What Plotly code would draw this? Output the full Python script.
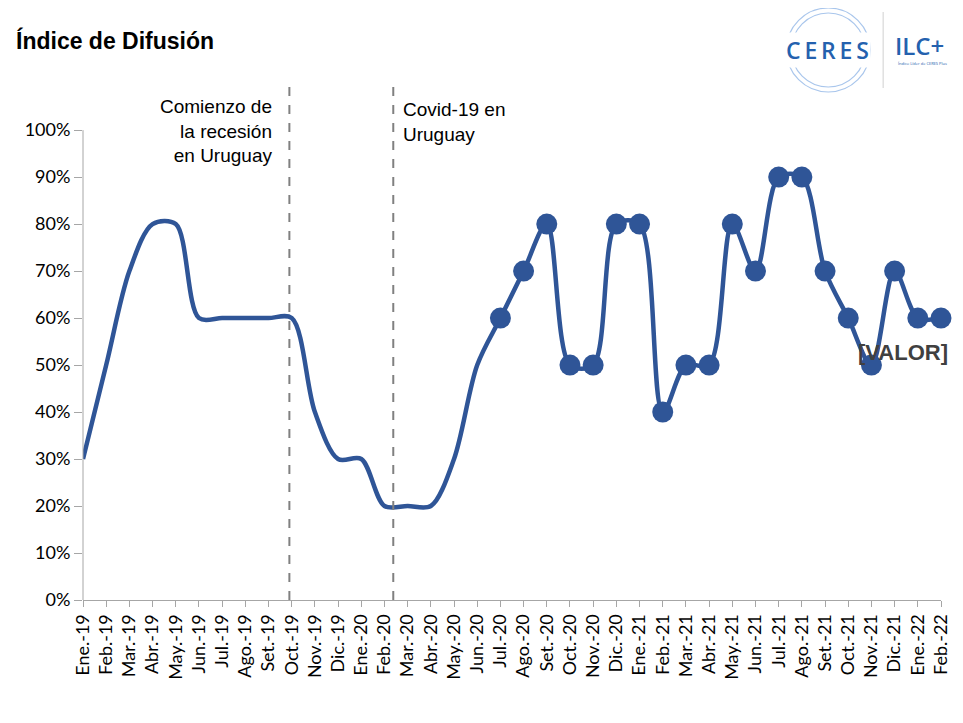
import plotly.graph_objects as go

months = ["Ene.-19", "Feb.-19", "Mar.-19", "Abr.-19", "May.-19", "Jun.-19", "Jul.-19", "Ago.-19",
          "Set.-19", "Oct.-19", "Nov.-19", "Dic.-19",
          "Ene.-20", "Feb.-20", "Mar.-20", "Abr.-20", "May.-20", "Jun.-20", "Jul.-20", "Ago.-20",
          "Set.-20", "Oct.-20", "Nov.-20", "Dic.-20",
          "Ene.-21", "Feb.-21", "Mar.-21", "Abr.-21", "May.-21", "Jun.-21", "Jul.-21", "Ago.-21",
          "Set.-21", "Oct.-21", "Nov.-21", "Dic.-21",
          "Ene.-22", "Feb.-22"]
values = [0.30, 0.50, 0.70, 0.80, 0.80, 0.60, 0.60, 0.60, 0.60, 0.60, 0.40, 0.30,
          0.30, 0.20, 0.20, 0.20, 0.30, 0.50, 0.60, 0.70, 0.80, 0.50, 0.50, 0.80,
          0.80, 0.40, 0.50, 0.50, 0.80, 0.70, 0.90, 0.90, 0.70, 0.60, 0.50, 0.70,
          0.60, 0.60]
marker_start = "Jul.-20"
events = [("Comienzo de<br>la recesión<br>en Uruguay", 8.9), ("Covid-19 en<br>Uruguay", 13.38)]
label_month = "Nov.-21"

OFF = 8  # page body margin
W, H = 963 - OFF, 723 - OFF
L, R, T, B = 83 - OFF, 20, 85 - OFF, 123
PW, PH = W - L - R, H - T - B

def px(xp):
    return (xp - OFF - L) / PW

def py(yp):
    return (H - B - (yp - OFF)) / PH

BLUE = "#2F5597"
GREY = "#A6A6A6"

i0 = months.index(marker_start)

fig = go.Figure()
fig.add_trace(go.Scatter(
    x=months, y=values, mode="lines",
    line=dict(color=BLUE, width=4.5, shape="spline", smoothing=0.9),
    cliponaxis=False, showlegend=False, hoverinfo="x+y"))
fig.add_trace(go.Scatter(
    x=months[i0:], y=values[i0:], mode="markers",
    marker=dict(color=BLUE, size=21),
    cliponaxis=False, showlegend=False))

shapes = []
for _, xv in events:
    shapes.append(dict(type="line", xref="x", yref="paper", x0=xv, x1=xv, y0=0, y1=1,
                       line=dict(color="#808080", width=2, dash="dash")))
# y axis line
shapes.append(dict(type="line", xref="paper", yref="y", x0=0, x1=0, y0=0, y1=1.0,
                   line=dict(color=GREY, width=1)))
# logo rings
for r in (42, 37):
    shapes.append(dict(type="circle", xref="paper", yref="paper",
                       x0=px(830 - r), x1=px(830 + r), y0=py(50 + r), y1=py(50 - r),
                       line=dict(color="#A9C6EC", width=1.2)))
shapes.append(dict(type="line", xref="paper", yref="paper", x0=px(885), x1=px(885),
                   y0=py(88), y1=py(12), line=dict(color="#D0D0D0", width=1)))

annotations = [
    dict(text="<b>Índice de Difusión</b>", xref="paper", yref="paper", x=px(14), y=py(40),
         xanchor="left", yanchor="middle", showarrow=False,
         font=dict(family="Liberation Sans, Arial", size=23, color="#000000")),
    dict(text=events[0][0], xref="x", yref="paper", x=events[0][1], y=py(94), xshift=-15,
         xanchor="right", yanchor="top", align="right", showarrow=False,
         font=dict(family="Liberation Sans, Arial", size=19, color="#000000")),
    dict(text=events[1][0], xref="x", yref="paper", x=events[1][1], y=py(97), xshift=8,
         xanchor="left", yanchor="top", align="left", showarrow=False,
         font=dict(family="Liberation Sans, Arial", size=19, color="#000000")),
    dict(text="<b>[VALOR]</b>", xref="x", yref="y", x=months.index(label_month),
         y=values[months.index(label_month)], xshift=-15, yshift=13,
         xanchor="left", yanchor="middle", showarrow=False,
         font=dict(family="Liberation Sans, Arial", size=22, color="#404040")),
    dict(text="C\u2009E\u2009R\u2009E\u2009S", xref="paper", yref="paper", x=px(829), y=py(50),
         xanchor="center", yanchor="middle", showarrow=False, bgcolor="white",
         font=dict(family="Open Sans", size=23, color="#2461AE", weight=600)),
    dict(text="ILC+", xref="paper", yref="paper", x=px(895), y=py(46),
         xanchor="left", yanchor="middle", showarrow=False,
         font=dict(family="Open Sans", size=24, color="#2461AE", weight=600)),
    dict(text="Índice Líder de CERES Plus", xref="paper", yref="paper", x=px(898), y=py(64),
         xanchor="left", yanchor="middle", showarrow=False,
         font=dict(family="Open Sans", size=4, color="#2461AE")),
]

fig.update_layout(
    width=W, height=H,
    margin=dict(l=L, r=R, t=T, b=B),
    paper_bgcolor="white", plot_bgcolor="white",
    shapes=shapes, annotations=annotations,
    xaxis=dict(type="category", categoryorder="array", categoryarray=months,
               range=[0, len(months) - 1], showgrid=False, zeroline=False,
               showline=True, linecolor=GREY, linewidth=1,
               ticks="outside", ticklen=6, tickcolor=GREY, tickangle=-90,
               tickfont=dict(family="Lato, Carlito, sans-serif", size=18, color="#000000")),
    yaxis=dict(range=[0, 1.096], tickvals=[i / 10 for i in range(11)], tickformat=".0%",
               showgrid=False, zeroline=False, showline=False,
               ticks="outside", ticklen=8, tickcolor=GREY,
               tickfont=dict(family="Lato, Carlito, sans-serif", size=18, color="#000000")),
)

fig.write_html("out.html")
